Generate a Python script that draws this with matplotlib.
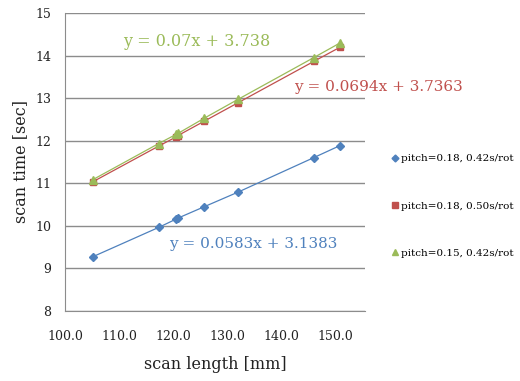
#!/usr/bin/env python3
"""Scan time vs scan length for three pitch / rotation settings."""

import matplotlib

matplotlib.use("Agg")

import matplotlib.pyplot as plt  # noqa: E402
from matplotlib.lines import Line2D  # noqa: E402
from matplotlib.ticker import FormatStrFormatter  # noqa: E402

BLUE = "#4F81BD"
RED = "#C0504D"
GREEN = "#9BBB59"
GRID = "#8C8C8C"

# --- data ---
scan_length = [105.1, 117.3, 120.6, 120.9, 125.8, 132.0, 146.0, 150.8]
time_p018_042 = [9.27, 9.96, 10.16, 10.18, 10.45, 10.79, 11.60, 11.88]
time_p018_050 = [11.03, 11.87, 12.09, 12.12, 12.46, 12.89, 13.86, 14.19]
time_p015_042 = [11.08, 11.93, 12.15, 12.17, 12.53, 12.97, 13.95, 14.29]

labels = ["pitch=0.18, 0.42s/rot", "pitch=0.18, 0.50s/rot", "pitch=0.15, 0.42s/rot"]
x_ticks = [100, 110, 120, 130, 140, 150]
y_ticks = [8, 9, 10, 11, 12, 13, 14, 15]

plt.rcParams["font.family"] = ["DejaVu Serif"]

fig = plt.figure(figsize=(5.2, 3.81), dpi=100)
ax = fig.add_axes([0.125, 0.184, 0.577, 0.782])

ax.plot(scan_length, time_p018_042, color=BLUE, lw=0.9, marker="D",
        ms=4.5, mec=BLUE, zorder=3)
ax.plot(scan_length, time_p018_050, color=RED, lw=0.9, marker="s",
        ms=5, mec=RED, zorder=3)
ax.plot(scan_length, time_p015_042, color=GREEN, lw=0.9, marker="^",
        ms=5.5, mec=GREEN, zorder=4)

ax.text(124.3, 14.32, "y = 0.07x + 3.738", color=GREEN, fontsize=11.5,
        ha="center", va="center")
ax.text(158.0, 13.26, "y = 0.0694x + 3.7363", color=RED, fontsize=11,
        ha="center", va="center", clip_on=False)
ax.text(134.8, 9.58, "y = 0.0583x + 3.1383", color=BLUE, fontsize=11,
        ha="center", va="center")

ax.set_xlim(100, 155.5)
ax.set_ylim(8, 15)
ax.set_xticks(x_ticks)
ax.set_yticks(y_ticks)
ax.xaxis.set_major_formatter(FormatStrFormatter("%.1f"))
ax.tick_params(length=0, labelsize=9, colors="#222222")
ax.tick_params(axis="x", pad=14)
ax.tick_params(axis="y", pad=10)
ax.yaxis.grid(True, color=GRID, lw=1.0)
ax.set_axisbelow(True)
for side in ("top", "right"):
    ax.spines[side].set_visible(False)
for side in ("left", "bottom"):
    ax.spines[side].set_color(GRID)

ax.set_xlabel("scan length [mm]", fontsize=11.5, color="#222222", labelpad=9)
ax.set_ylabel("scan time [sec]", fontsize=11.5, color="#222222", labelpad=4)

handles = [
    Line2D([], [], ls="none", marker="D", ms=3.5, color=BLUE),
    Line2D([], [], ls="none", marker="s", ms=5, color=RED),
    Line2D([], [], ls="none", marker="^", ms=4, color=GREEN),
]
fig.legend(handles, labels, loc="upper left", bbox_to_anchor=(0.735, 0.62),
           frameon=False, fontsize=7.5, labelspacing=3.65, handlelength=0.6,
           handletextpad=0.3)

fig.savefig("out.png", dpi=100, facecolor="white")
